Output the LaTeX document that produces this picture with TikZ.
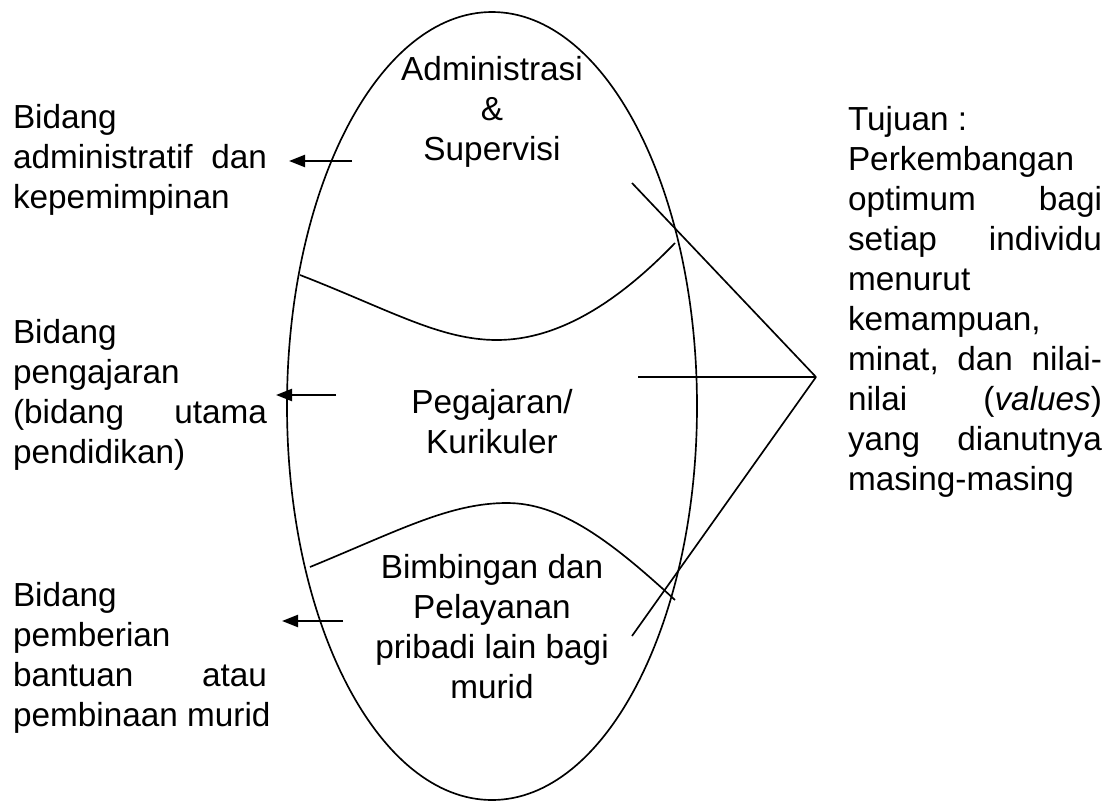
\documentclass[tikz,border=0pt]{standalone}
\usepackage{fontspec}
\setmainfont{Liberation Sans}
\usetikzlibrary{arrows.meta,shapes.geometric}
\newcommand{\LJ}[2]{\makebox[190.5pt][l]{#1\hfill #2}}
\newcommand{\LJJ}[3]{\makebox[190.5pt][l]{#1\hfill #2\hfill #3}}
\begin{document}
\begin{tikzpicture}[x=0.75pt,y=-0.75pt,
  txt/.style={font=\fontsize{25}{30}\selectfont, inner sep=0pt, outer sep=0pt},
  lblock/.style={txt, anchor=north west, align=left},
  cblock/.style={txt, anchor=north, align=center},
  ln/.style={line width=1.25pt},
  arr/.style={line width=1.7pt, -{Triangle[length=12pt,width=9pt]}}]
\useasboundingbox (0,0) rectangle (1107,800);
\node[draw, ellipse, ln, minimum width=307.5pt, minimum height=591pt, inner sep=0pt] (E) at (492,406) {};

% texts inside ellipse
\node[cblock] (adm) at (492,56) {Administrasi\\\&\\Supervisi};
\node[cblock] (peg) at (492,389) {Pegajaran/\\Kurikuler};
\node[cblock] (bim) at (492,554) {Bimbingan dan\\Pelayanan\\pribadi lain bagi\\murid};

% left texts
\node[lblock] (L1) at (13,104) {Bidang\\\LJ{administratif}{dan}\\kepemimpinan};
\node[lblock] (L2) at (13,319) {Bidang\\pengajaran\\\LJ{(bidang}{utama}\\pendidikan)};
\node[lblock] (L3) at (13,582) {Bidang\\pemberian\\\LJ{bantuan}{atau}\\pembinaan murid};

% right text
\node[lblock] (R) at (848,106) {Tujuan :\\Perkembangan\\\LJ{optimum}{bagi}\\\LJ{setiap}{individu}\\menurut\\kemampuan,\\\LJJ{minat,}{dan}{nilai-}\\\LJ{nilai}{(\textit{values})}\\\LJ{yang}{dianutnya}\\masing-masing};

% dividing curves
\coordinate (u1) at (300,275);
\coordinate (u2) at (675,243);
\coordinate (w1) at (310,567);
\coordinate (w2) at (675,600);
\draw[ln] (u1) .. controls (390,310) and (440,340) .. (497,340) .. controls (560,340) and (620,300) .. (u2);
\draw[ln] (w1) .. controls (400,530) and (450,503) .. (507,503) .. controls (560,503) and (610,540) .. (w2);

% arrows to the left
\coordinate (a1s) at (352,161); \coordinate (a1e) at (289,161);
\coordinate (a2s) at (336,395); \coordinate (a2e) at (276,395);
\coordinate (a3s) at (343,621); \coordinate (a3e) at (282,621);
\draw[arr] (a1s) -- (a1e);
\draw[arr] (a2s) -- (a2e);
\draw[arr] (a3s) -- (a3e);

% lines to the goal
\coordinate (G) at (816,377);
\coordinate (g1) at (632,183);
\coordinate (g2) at (638,377);
\coordinate (g3) at (632,636);
\draw[ln] (g1) -- (G);
\draw[ln] (g2) -- (G);
\draw[ln] (g3) -- (G);
\end{tikzpicture}
\end{document}
